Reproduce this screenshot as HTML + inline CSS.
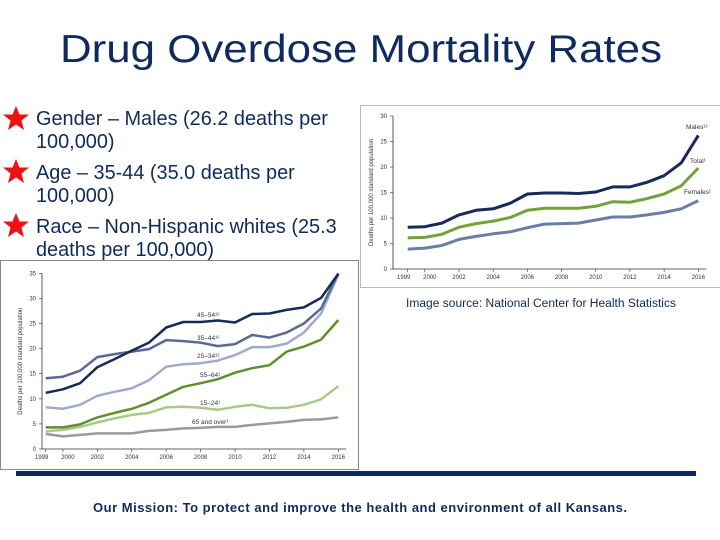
<!DOCTYPE html>
<html><head><meta charset="utf-8"><style>
html,body{margin:0;padding:0;background:#fff;}
svg{display:block;font-family:"Liberation Sans",Arial,sans-serif;}
</style></head><body>
<svg id="s" width="720" height="540" viewBox="0 0 720 540" xmlns="http://www.w3.org/2000/svg">
<text x="361" y="62" text-anchor="middle" font-size="39" fill="#0f2a5c" textLength="602" lengthAdjust="spacingAndGlyphs">Drug Overdose Mortality Rates</text>
<g fill="#0f2a5c" font-size="19.9">
<text x="36" y="125">Gender – Males (26.2 deaths per</text>
<text x="36" y="148">100,000)</text>
<text x="36" y="179">Age – 35-44 (35.0 deaths per</text>
<text x="36" y="202">100,000)</text>
<text x="36" y="233">Race – Non-Hispanic whites (25.3</text>
<text x="36" y="256">deaths per 100,000)</text>
</g>
<g fill="#ee1111">
<polygon transform="translate(16,119)" points="0,-13 3.5,-4.5 13,-4.5 5.5,1.5 8,11 0,5.5 -8,11 -5.5,1.5 -13,-4.5 -3.5,-4.5"/>
<polygon transform="translate(16,172)" points="0,-13 3.5,-4.5 13,-4.5 5.5,1.5 8,11 0,5.5 -8,11 -5.5,1.5 -13,-4.5 -3.5,-4.5"/>
<polygon transform="translate(16,226)" points="0,-13 3.5,-4.5 13,-4.5 5.5,1.5 8,11 0,5.5 -8,11 -5.5,1.5 -13,-4.5 -3.5,-4.5"/>
</g>
<rect x="360.5" y="105.5" width="362" height="182" fill="#fff" stroke="#bbb"/>
<g id="top"></g>
<rect x="0.5" y="260.5" width="358" height="209" fill="#fff" stroke="#888"/>
<g id="bot"></g>
<text x="406" y="307" font-size="11.5" fill="#0f2a5c" textLength="270" lengthAdjust="spacingAndGlyphs">Image source: National Center for Health Statistics</text>
<rect x="16" y="471" width="680" height="5" fill="#0f2a5c"/>
<text x="93" y="512" font-size="13" font-weight="bold" fill="#0f2a5c" textLength="534" lengthAdjust="spacing">Our Mission: To protect and improve the health and environment of all Kansans.</text>
</svg>
<script>
const years = [1999,2000,2001,2002,2003,2004,2005,2006,2007,2008,2009,2010,2011,2012,2013,2014,2015,2016];
const tickYears = [2002,2004,2006,2008,2010,2012,2014,2016];
const males = [8.2,8.3,9.0,10.6,11.5,11.8,12.9,14.7,14.9,14.9,14.8,15.1,16.1,16.1,17.0,18.3,20.8,26.2];
const total = [6.1,6.2,6.8,8.2,8.9,9.4,10.1,11.5,11.9,11.9,11.9,12.3,13.2,13.1,13.8,14.7,16.3,19.8];
const females = [3.9,4.1,4.6,5.8,6.4,6.9,7.3,8.1,8.8,8.9,9.0,9.6,10.2,10.2,10.6,11.1,11.8,13.4];
const topTicks = [0,5,10,15,20,25,30];
const age4554 = [11.2,11.9,13.1,16.3,17.9,19.6,21.2,24.2,25.3,25.3,25.6,25.2,26.9,27.0,27.7,28.2,30.1,34.9];
const age3544 = [14.1,14.4,15.6,18.3,18.9,19.4,19.9,21.7,21.5,21.2,20.5,20.9,22.7,22.2,23.2,25.0,28.0,35.0];
const age2534 = [8.3,8.0,8.8,10.6,11.4,12.1,13.7,16.4,16.9,17.1,17.6,18.7,20.3,20.3,21.0,23.2,27.0,34.7];
const age5564 = [4.3,4.3,4.9,6.3,7.2,8.0,9.2,10.8,12.4,13.1,13.9,15.2,16.1,16.7,19.4,20.4,21.8,25.7];
const age1524 = [3.5,3.8,4.4,5.3,6.1,6.8,7.2,8.3,8.4,8.2,7.8,8.4,8.8,8.1,8.2,8.8,9.9,12.5];
const age65 = [3.0,2.5,2.8,3.1,3.1,3.1,3.6,3.8,4.1,4.2,4.4,4.4,4.8,5.1,5.4,5.8,5.9,6.3];
const botTicks = [0,5,10,15,20,25,30,35];
const NS='http://www.w3.org/2000/svg';
function mk(tag,attrs,parent,txt){const e=document.createElementNS(NS,tag);for(const k in attrs)e.setAttribute(k,attrs[k]);if(txt!==undefined)e.textContent=txt;parent.appendChild(e);return e;}
function chart(g,cfg){
  const xs=y=>cfg.x0+(y-1999)*(cfg.x1-cfg.x0)/(2016-1999);
  const ys=v=>cfg.y0-v*(cfg.y0-cfg.yTop)/cfg.vmax;
  const ax=mk('path',{d:`M${cfg.ax} ${ys(cfg.vmax)}V${cfg.y0}H${cfg.x1+8}`,stroke:'#333','stroke-width':0.8,fill:'none'},g);
  
  
  cfg.ticks.forEach(t=>{
    const tk=mk('text',{x:cfg.ax-6,y:ys(t)+2,'text-anchor':'end','font-size':6,fill:'#333'},g,String(t));
    
    
    const tl=mk('line',{x1:cfg.ax-3,x2:cfg.ax,y1:ys(t),y2:ys(t),stroke:'#333','stroke-width':0.6},g);
    
    
  });
  const xl=[{y:1999,t:'1999'},{y:2000,t:'2000'}].concat(tickYears.map(y=>({y:y,t:String(y)})));
  xl.forEach(o=>{
    const t=mk('text',{x:xs(o.y)+(o.y===1999?-4:o.y===2000?5:0),y:cfg.y0+10,'text-anchor':'middle','font-size':6,fill:'#333'},g,o.t);
    
    
    const l=mk('line',{x1:xs(o.y),x2:xs(o.y),y1:cfg.y0,y2:cfg.y0+3,stroke:'#333','stroke-width':0.6},g);
    
    
  });
  const yt=mk('text',{transform:`translate(${cfg.ax-20},${(cfg.y0+ys(cfg.vmax))/2}) rotate(-90)`,'text-anchor':'middle','font-size':6,fill:'#333'},g,'Deaths per 100,000 standard population');
  
  
  cfg.series.forEach(s=>{
    const p=mk('path',{d:s.v.map((v,i)=>(i?'L':'M')+xs(years[i]).toFixed(1)+' '+ys(v).toFixed(1)).join(''),stroke:s.c,'stroke-width':cfg.w,fill:'none','stroke-linejoin':'round'},g);
    
    
    const lb=mk('text',{x:s.lx,y:s.ly,'font-size':6.5,fill:'#333'},g,s.label);
    
    
  });
}
chart(document.getElementById('top'),{x0:407.7,x1:698.3,y0:269,yTop:116,vmax:30,ax:393,ticks:topTicks,w:3,series:[
 {n:'males',v:males,c:'#172b58',label:'Males¹²',lx:686,ly:129},
 {n:'total',v:total,c:'#74a23a',label:'Total¹',lx:690,ly:163},
 {n:'females',v:females,c:'#6c7ca4',label:'Females¹',lx:684,ly:194}]});
chart(document.getElementById('bot'),{x0:45.7,x1:338.3,y0:449,yTop:273.3,vmax:35,ax:42,ticks:botTicks,w:2.5,series:[
 {n:'age-65-over',v:age65,c:'#9a9a9a',label:'65 and over¹',lx:192,ly:424},
 {n:'age-15-24',v:age1524,c:'#a9c98a',label:'15–24¹',lx:200,ly:405},
 {n:'age-55-64',v:age5564,c:'#5f8f2e',label:'55–64¹',lx:200,ly:377},
 {n:'age-25-34',v:age2534,c:'#a0abcb',label:'25–34¹²',lx:197,ly:358},
 {n:'age-35-44',v:age3544,c:'#5a6a92',label:'35–44¹²',lx:197,ly:340},
 {n:'age-45-54',v:age4554,c:'#172b58',label:'45–54¹²',lx:197,ly:317}]});
</script>
</body></html>
